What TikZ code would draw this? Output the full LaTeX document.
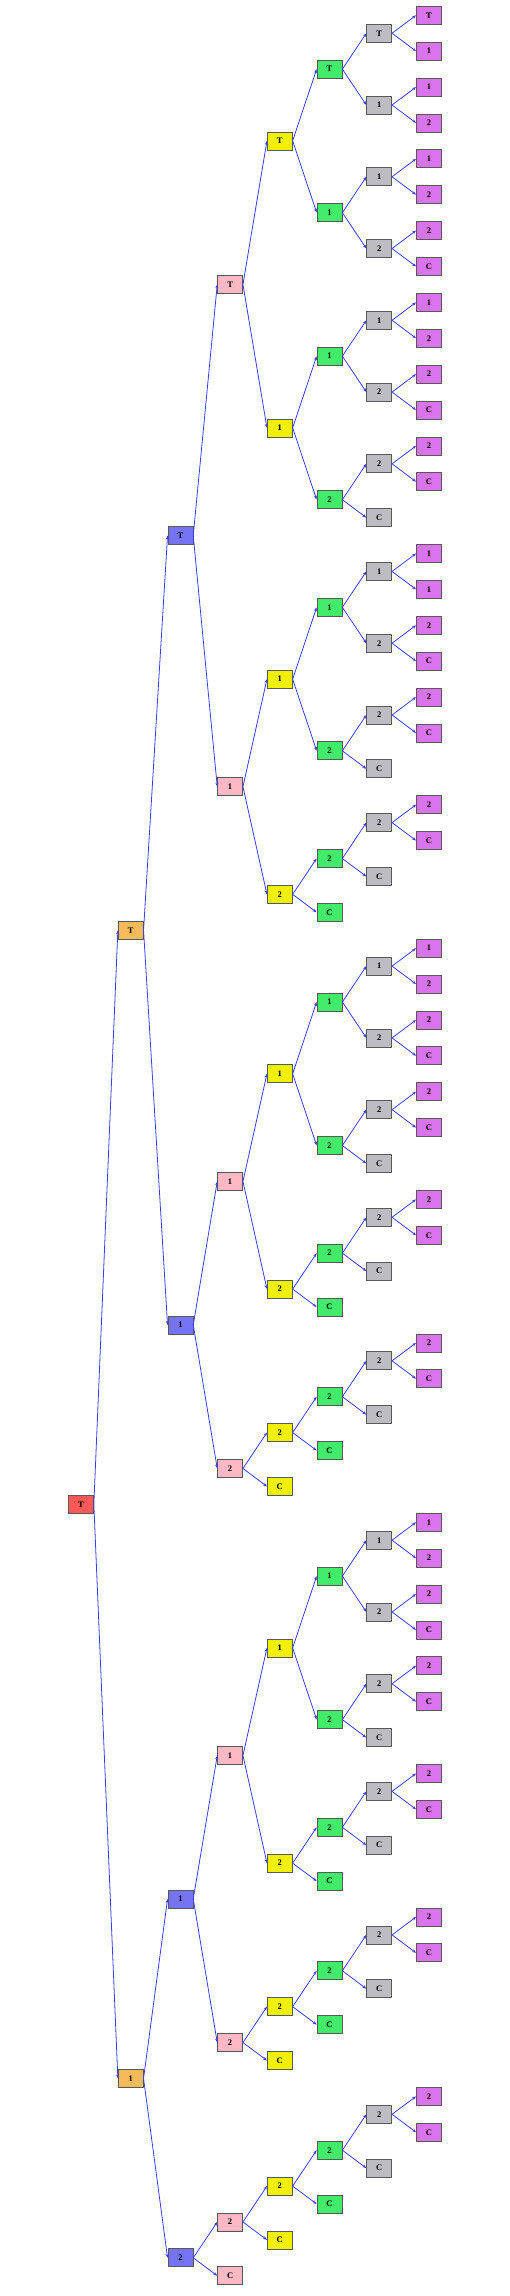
\documentclass[tikz,border=0pt]{standalone}
\usepackage{fontspec}
\setmainfont{Liberation Serif}
\usepackage{tikz}
\usetikzlibrary{arrows.meta}
\definecolor{cRoot}{RGB}{255,88,88}
\definecolor{cOra}{RGB}{245,186,90}
\definecolor{cBlu}{RGB}{116,116,245}
\definecolor{cPnk}{RGB}{255,184,196}
\definecolor{cYel}{RGB}{240,240,0}
\definecolor{cGrn}{RGB}{66,236,106}
\definecolor{cGry}{RGB}{190,188,195}
\definecolor{cMag}{RGB}{218,115,238}
\definecolor{edg}{RGB}{60,60,255}
\tikzset{
  box/.style={rectangle, draw=black!65, line width=0.7pt, minimum width=25pt,
              minimum height=18pt, inner sep=0pt, font=\fontsize{8.5}{9}\selectfont\bfseries},
  % one fill per depth of the tree
  lv0/.style={box, fill=cRoot},
  lv1/.style={box, fill=cOra},
  lv2/.style={box, fill=cBlu},
  lv3/.style={box, fill=cPnk},
  lv4/.style={box, fill=cYel},
  lv5/.style={box, fill=cGrn},
  lv6/.style={box, fill=cGry},
  lv7/.style={box, fill=cMag},
  ar/.style={-{Stealth[length=4pt,width=3pt]}, draw=edg, line width=0.8pt}
}
\begin{document}
\begin{tikzpicture}[x=49.7pt, y=-35.88pt]
  \useasboundingbox (-81pt,15.3pt) rectangle (429pt,-2280.7pt);

  % --- raiz e primeiros niveis ---
  \node[lv0] (r) at (0,41.5) {T};
  \node[lv1] (rT) at (1,25.5) {T};
  \node[lv1] (r1) at (1,57.5) {1};
  \foreach \n/\u/\t in {rTT/14.5/T, rT1/36.5/1, r11/52.5/1, r12/62.5/2}
    \node[lv2] (\n) at (2,\u) {\t};
  \foreach \n/\u/\t in {rTTT/7.5/T, rTT1/21.5/1, rT11/32.5/1, rT12/40.5/2,
      r111/48.5/1, r112/56.5/2, r122/61.5/2, r12C/63/C}
    \node[lv3] (\n) at (3,\u) {\t};
  \foreach \n/\u/\t in {rTTTT/3.5/T, rTTT1/11.5/1, rTT11/18.5/1, rTT12/24.5/2,
      rT111/29.5/1, rT112/35.5/2, rT122/39.5/2, rT12C/41/C,
      r1111/45.5/1, r1112/51.5/2, r1122/55.5/2, r112C/57/C,
      r1222/60.5/2, r122C/62/C}
    \node[lv4] (\n) at (4,\u) {\t};

  % --- niveis profundos ---
  \foreach \n/\u/\t in {rTTTTT/1.5/T, rTTTT1/5.5/1, rTTT11/9.5/1, rTTT12/13.5/2,
      rTT111/16.5/1, rTT112/20.5/2, rTT122/23.5/2, rTT12C/25/C,
      rT1111/27.5/1, rT1112/31.5/2, rT1122/34.5/2, rT112C/36/C,
      rT1222/38.5/2, rT122C/40/C, r11111/43.5/1, r11112/47.5/2,
      r11122/50.5/2, r1112C/52/C, r11222/54.5/2, r1122C/56/C,
      r12222/59.5/2, r1222C/61/C}
    \node[lv5] (\n) at (5,\u) {\t};
  \foreach \n/\u/\t in {rTTTTTT/0.5/T, rTTTTT1/2.5/1, rTTTT11/4.5/1, rTTTT12/6.5/2,
      rTTT111/8.5/1, rTTT112/10.5/2, rTTT122/12.5/2, rTTT12C/14/C,
      rTT1111/15.5/1, rTT1112/17.5/2, rTT1122/19.5/2, rTT112C/21/C,
      rTT1222/22.5/2, rTT122C/24/C, rT11111/26.5/1, rT11112/28.5/2,
      rT11122/30.5/2, rT1112C/32/C, rT11222/33.5/2, rT1122C/35/C,
      rT12222/37.5/2, rT1222C/39/C, r111111/42.5/1, r111112/44.5/2,
      r111122/46.5/2, r11112C/48/C, r111222/49.5/2, r11122C/51/C,
      r112222/53.5/2, r11222C/55/C, r122222/58.5/2, r12222C/60/C}
    \node[lv6] (\n) at (6,\u) {\t};
  \foreach \n/\u/\t in {rTTTTTTT/0/T, rTTTTTT1/1/1, rTTTTT11/2/1, rTTTTT12/3/2,
      rTTTT111/4/1, rTTTT112/5/2, rTTTT122/6/2, rTTTT12C/7/C,
      rTTT1111/8/1, rTTT1112/9/2, rTTT1122/10/2, rTTT112C/11/C,
      rTTT1222/12/2, rTTT122C/13/C,
      rTT11111/15/1, rTT11112/16/1, rTT11122/17/2, rTT1112C/18/C,
      rTT11222/19/2, rTT1122C/20/C, rTT12222/22/2, rTT1222C/23/C,
      rT111111/26/1, rT111112/27/2, rT111122/28/2, rT11112C/29/C,
      rT111222/30/2, rT11122C/31/C, rT112222/33/2, rT11222C/34/C,
      rT122222/37/2, rT12222C/38/C,
      r1111111/42/1, r1111112/43/2, r1111122/44/2, r111112C/45/C,
      r1111222/46/2, r111122C/47/C, r1112222/49/2, r111222C/50/C,
      r1122222/53/2, r112222C/54/C, r1222222/58/2, r122222C/59/C}
    \node[lv7] (\n) at (7,\u) {\t};

  % --- arestas: pai -> dois filhos ---
  \foreach \p/\a/\b in {r/rT/r1, rT/rTT/rT1, r1/r11/r12,
      rTT/rTTT/rTT1, rT1/rT11/rT12, r11/r111/r112, r12/r122/r12C,
      rTTT/rTTTT/rTTT1, rTT1/rTT11/rTT12, rT11/rT111/rT112, rT12/rT122/rT12C,
      r111/r1111/r1112, r112/r1122/r112C, r122/r1222/r122C,
      rTTTT/rTTTTT/rTTTT1, rTTT1/rTTT11/rTTT12, rTT11/rTT111/rTT112,
      rTT12/rTT122/rTT12C, rT111/rT1111/rT1112, rT112/rT1122/rT112C,
      rT122/rT1222/rT122C, r1111/r11111/r11112, r1112/r11122/r1112C,
      r1122/r11222/r1122C, r1222/r12222/r1222C,
      rTTTTT/rTTTTTT/rTTTTT1, rTTTT1/rTTTT11/rTTTT12, rTTT11/rTTT111/rTTT112,
      rTTT12/rTTT122/rTTT12C, rTT111/rTT1111/rTT1112, rTT112/rTT1122/rTT112C,
      rTT122/rTT1222/rTT122C, rT1111/rT11111/rT11112, rT1112/rT11122/rT1112C,
      rT1122/rT11222/rT1122C, rT1222/rT12222/rT1222C, r11111/r111111/r111112,
      r11112/r111122/r11112C, r11122/r111222/r11122C, r11222/r112222/r11222C,
      r12222/r122222/r12222C,
      rTTTTTT/rTTTTTTT/rTTTTTT1, rTTTTT1/rTTTTT11/rTTTTT12, rTTTT11/rTTTT111/rTTTT112,
      rTTTT12/rTTTT122/rTTTT12C, rTTT111/rTTT1111/rTTT1112, rTTT112/rTTT1122/rTTT112C,
      rTTT122/rTTT1222/rTTT122C, rTT1111/rTT11111/rTT11112, rTT1112/rTT11122/rTT1112C,
      rTT1122/rTT11222/rTT1122C, rTT1222/rTT12222/rTT1222C, rT11111/rT111111/rT111112,
      rT11112/rT111122/rT11112C, rT11122/rT111222/rT11122C, rT11222/rT112222/rT11222C,
      rT12222/rT122222/rT12222C, r111111/r1111111/r1111112, r111112/r1111122/r111112C,
      r111122/r1111222/r111122C, r111222/r1112222/r111222C, r112222/r1122222/r112222C,
      r122222/r1222222/r122222C}
  {
    \draw[ar] (\p.east) -- (\a.west);
    \draw[ar] (\p.east) -- (\b.west);
  }
\end{tikzpicture}
\end{document}
